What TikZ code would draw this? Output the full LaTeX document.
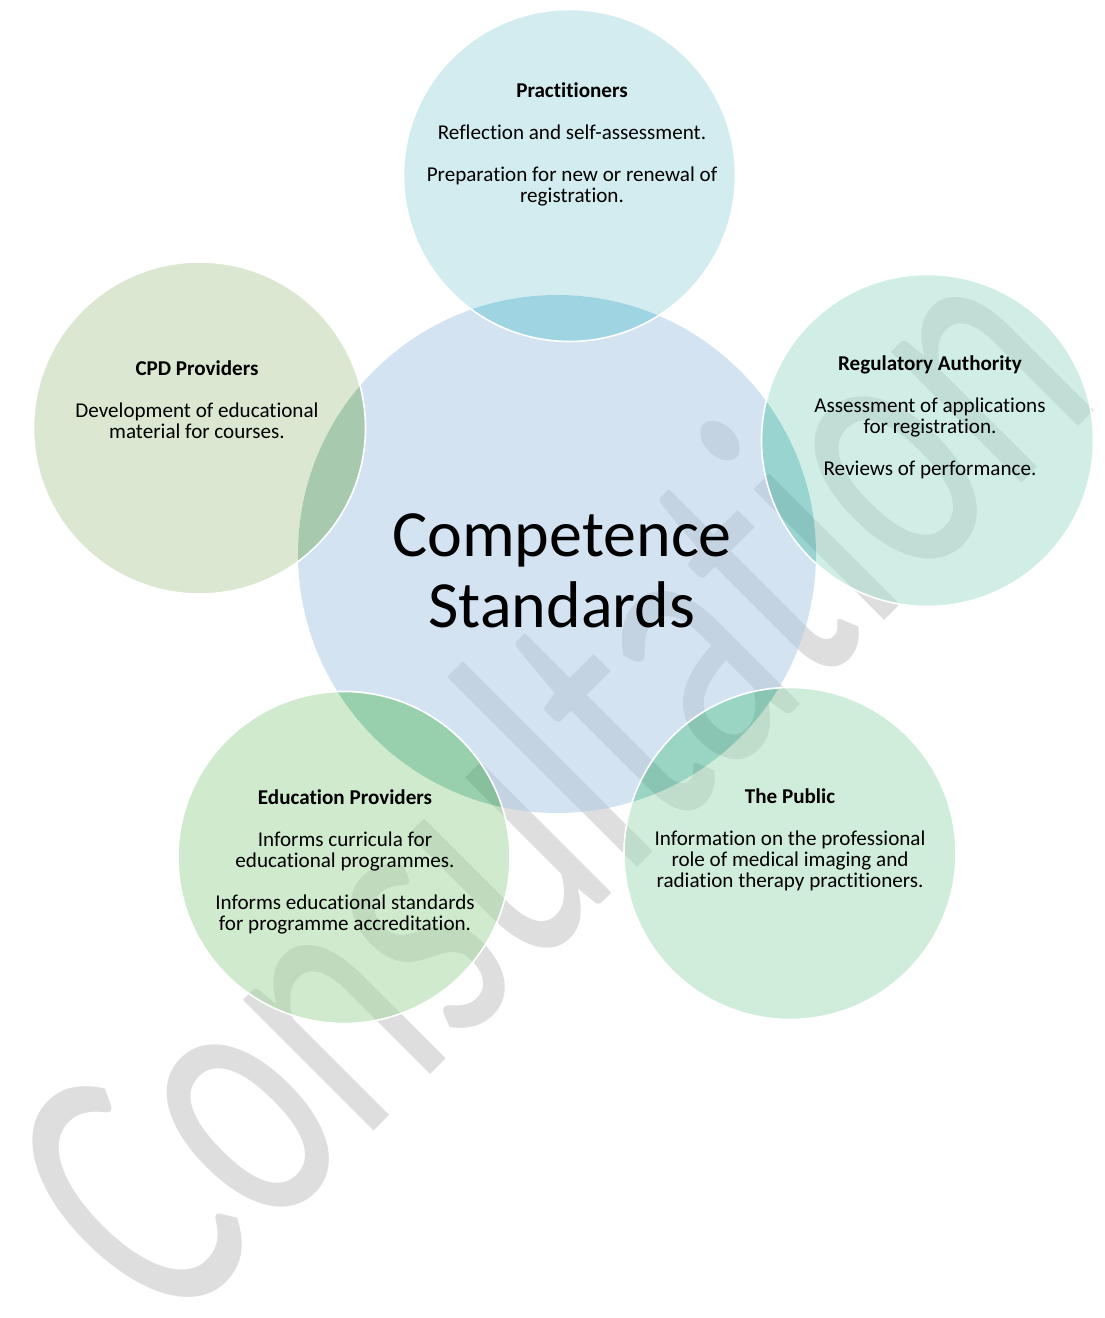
\documentclass[tikz,border=0pt]{standalone}
\usepackage{fontspec}
\setmainfont{Carlito}[Ligatures={NoCommon}]
\usepackage{graphicx}

% tints laid at half strength over the page: hub, petals, and petal-over-hub lenses
\definecolor{hubtint}{RGB}{171,201,231}
\definecolor{practint}{RGB}{169,219,227}
\definecolor{pracdeep}{RGB}{65,171,199}
\definecolor{cpdtint}{RGB}{185,209,163}
\definecolor{cpddeep}{RGB}{81,151,97}
\definecolor{regtint}{RGB}{165,223,207}
\definecolor{regdeep}{RGB}{55,171,165}
\definecolor{edutint}{RGB}{161,215,157}
\definecolor{edudeep}{RGB}{51,161,93}
\definecolor{pubtint}{RGB}{163,219,185}
\definecolor{pubdeep}{RGB}{55,173,137}
\definecolor{markgray}{RGB}{222,222,222}

\begin{document}
\begin{tikzpicture}[x=1pt,y=1pt,
  wash/.style={fill opacity=0.5},
  rim/.style={draw=white, line width=1.6pt},
  blurb/.style={align=center, inner sep=0pt, text=black,
    font=\fontsize{21.1}{21}\selectfont},
  heading/.style={align=center, inner sep=0pt, text=black,
    font=\fontsize{66}{71}\selectfont},
  stamp/.style={inner sep=0pt, outer sep=0pt, text=markgray,
    font=\fontsize{258}{258}\selectfont}]

\useasboundingbox (0,0) rectangle (1105,1318);
\fill[white] (0,0) rectangle (1105,1318);

% centres of the circles
\coordinate (cHub) at (557,764);
\coordinate (cPrac) at (569.5,1142.5);
\coordinate (cCpd) at (199.5,890);
\coordinate (cReg) at (927.5,877.5);
\coordinate (cEdu) at (344,460.5);
\coordinate (cPub) at (790,464.5);

% diagonal stamp, lying under the see-through circles
\node[stamp, rotate=45, anchor=base west] (mark) at (168,-19)
  {\scalebox{1}[1.5]{Consultation}};

% hub, without the parts covered by petals
\begin{scope}
  \clip (cHub) circle (259);
  \fill[hubtint, wash, even odd rule] (0,0) rectangle (1105,1318)
    (cPrac) circle (166) (cCpd) circle (166) (cReg) circle (166)
    (cEdu) circle (166) (cPub) circle (166);
\end{scope}

% each petal: its own part, then the lens where it covers the hub
\foreach \c/\tint/\deep in {cPrac/practint/pracdeep, cCpd/cpdtint/cpddeep,
    cReg/regtint/regdeep, cEdu/edutint/edudeep, cPub/pubtint/pubdeep} {
  \begin{scope}
    \clip (\c) circle (166);
    \fill[\tint, wash, even odd rule] (0,0) rectangle (1105,1318) (cHub) circle (259);
  \end{scope}
  \begin{scope}
    \clip (cHub) circle (259);
    \clip (\c) circle (166);
    \fill[\deep, wash] (0,0) rectangle (1105,1318);
  \end{scope}
}

% thin white rims of the petals
\foreach \c in {cPrac,cCpd,cReg,cEdu,cPub}
  \draw[rim] (\c) circle (166);

% texts
\node[heading] (title) at (562,747) {Competence\\Standards};

\node[blurb] (pracText) at (572,1173.5)
  {\textbf{Practitioners}\\[21pt]Reflection and self-assessment.\\[21pt]Preparation for new or renewal of\\registration.};
\node[blurb] (cpdText) at (197,918)
  {\textbf{CPD Providers}\\[21pt]Development of educational\\material for courses.};
\node[blurb] (regText) at (930,900.5)
  {\textbf{Regulatory Authority}\\[21pt]Assessment of applications\\for registration.\\[21pt]Reviews of performance.};
\node[blurb] (eduText) at (345,456)
  {\textbf{Education Providers}\\[21pt]Informs curricula for\\educational programmes.\\[21pt]Informs educational standards\\for programme accreditation.};
\node[blurb] (pubText) at (790,478)
  {\textbf{The Public}\\[21pt]Information on the professional\\role of medical imaging and\\radiation therapy practitioners.};

\end{tikzpicture}
\end{document}
